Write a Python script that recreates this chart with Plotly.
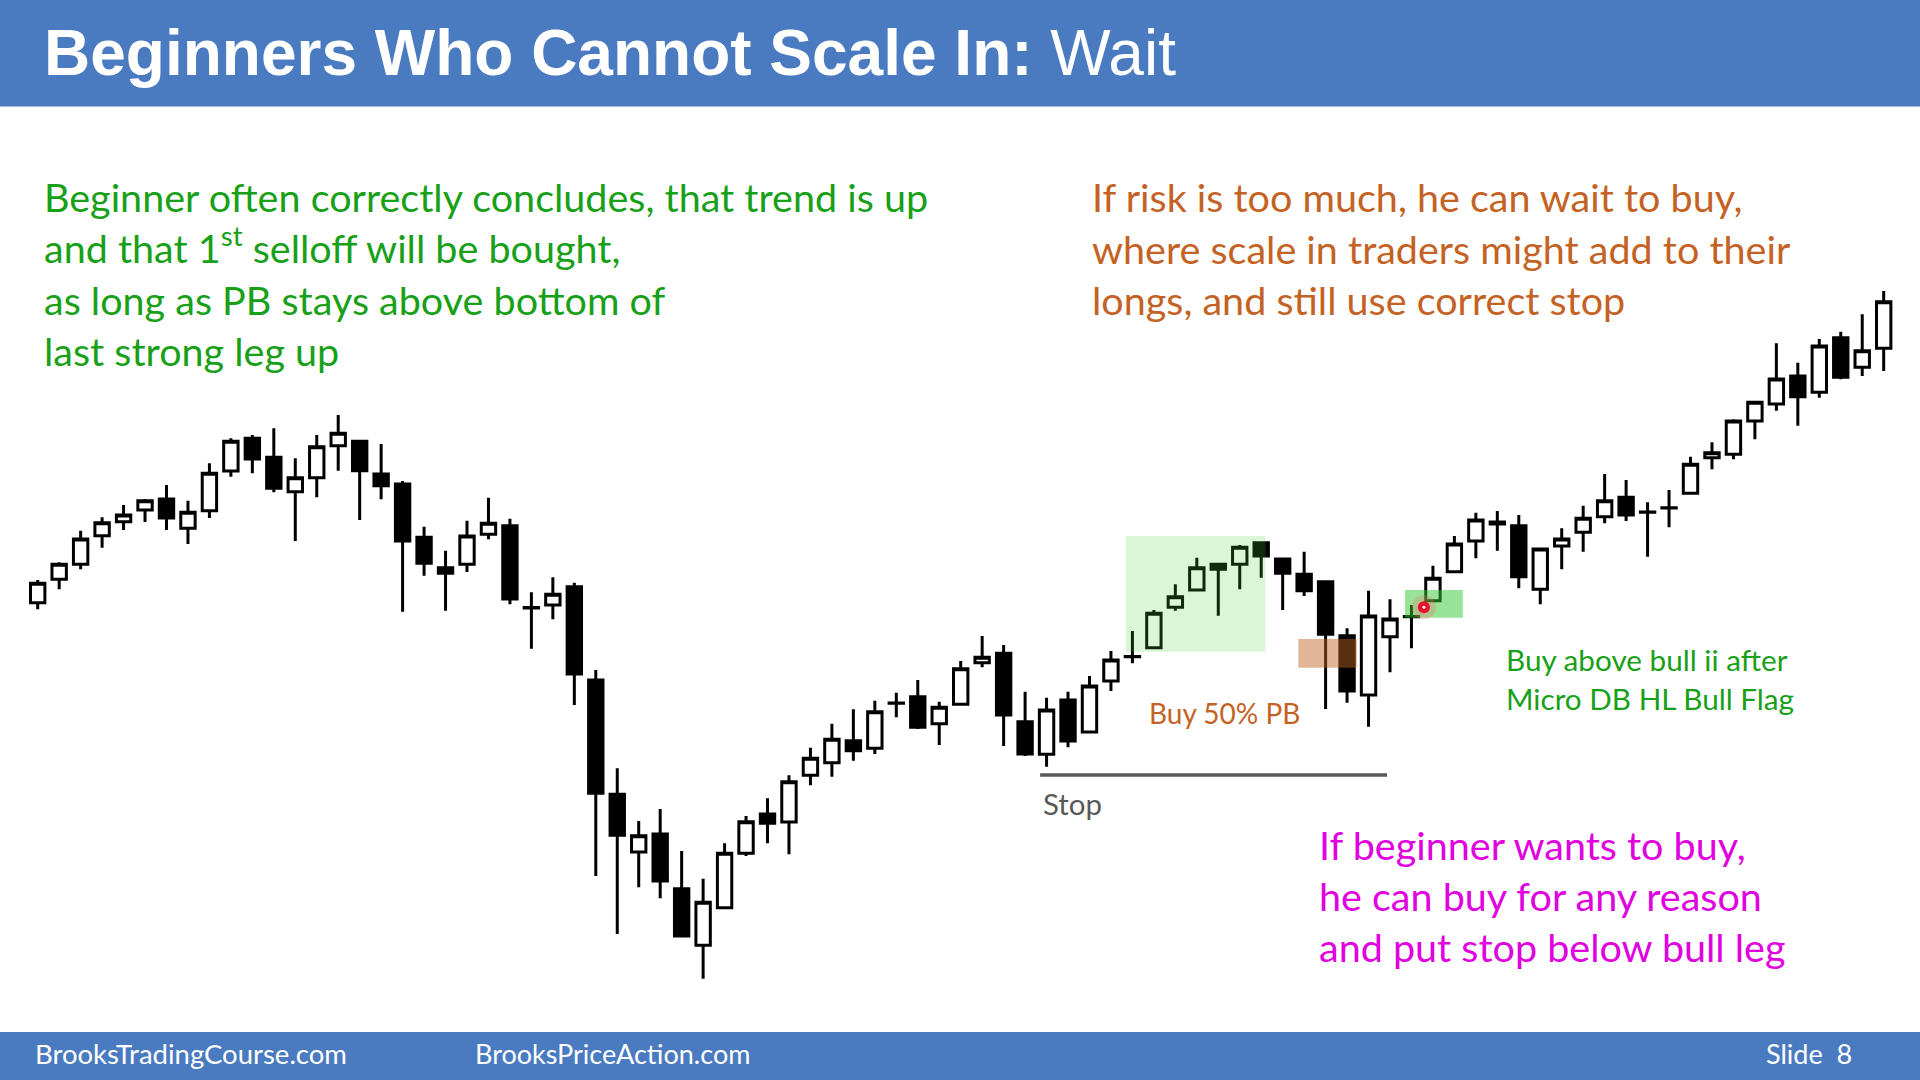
import plotly.graph_objects as go

# ---------------- data ----------------
bar_index = list(range(87))
opens = [477.3, 500.7, 515.7, 544.3, 558.3, 570, 581, 551.7, 569.3, 609,
         641.7, 622.7, 588.3, 602.3, 634.3, 638.7, 606, 596, 542.7, 512.3,
         515.7, 545.7, 554.3, 472.5, 475, 493.3, 400, 285.7, 228, 246,
         191.3, 134.7, 172.3, 226.7, 266, 258, 304.7, 317.3, 339.3, 331.7,
         377, 383.3, 356.3, 375.7, 417.3, 426.7, 358.3, 325.7, 380, 348,
         399, 423.5, 432.3, 472.7, 490, 515.7, 515.7, 537.3, 521, 505.7,
         498.3, 444.3, 385, 443.3, 463.5, 479.3, 508.3, 539, 558, 554.3,
         490.7, 534, 547.7, 563.3, 582.7, 568, 572, 586.7, 622.3, 625.7,
         659, 676, 704, 687.7, 742.3, 712.7, 731.7]
highs = [500, 517.7, 549.3, 562.7, 575, 581, 595, 579.3, 616.7, 641.7,
         645, 651.7, 621.7, 645, 665, 639, 636, 599, 553.3, 529.3,
         559.3, 582.3, 561.3, 487.7, 502.7, 497.3, 410, 311.7, 259, 271,
         229, 201.3, 236.7, 264, 281.7, 304.7, 332.3, 356.3, 370.7, 379.3,
         387.3, 400, 378.3, 419, 444, 435, 388.3, 382.3, 388.3, 404,
         429, 449, 470, 495.7, 522.3, 516.7, 535, 537.3, 521, 528.3,
         498.3, 451.7, 489.3, 480.7, 475, 514.3, 544, 567.3, 569, 565,
         532.3, 551.7, 574.3, 606, 600, 577.7, 590, 623.3, 637.7, 660.7,
         677.7, 736.7, 717.3, 741, 748.3, 765.7, 789]
lows = [470.7, 490.7, 510.7, 532.3, 550, 558, 550, 536, 562, 603.3,
        606.7, 587.7, 539, 582.7, 609.3, 560, 580.7, 468.3, 504.3, 469.3,
        508, 540.7, 475.7, 431.3, 460.7, 375, 204, 146, 192.7, 181.7,
        143.3, 101.3, 171, 224, 236.7, 225.7, 294.7, 303.3, 319.3, 326,
        362.7, 351, 335, 375.7, 412.7, 334, 324, 313.3, 332.7, 348,
        389, 416.7, 432.3, 469.3, 490, 464.3, 490.7, 502.3, 470, 484,
        371, 377.3, 353.3, 407.7, 431.7, 479.3, 508.3, 521.7, 529.3, 491.7,
        475.7, 510.7, 528.3, 556.7, 559, 523.3, 552.7, 585.7, 610.7, 620.7,
        640.7, 669.3, 654.3, 682.3, 700.7, 704, 709]
closes = [496.7, 515.7, 541, 557.3, 565, 579.3, 562, 567.7, 606.7, 638.7,
          621, 591.7, 602.3, 633.3, 646.7, 609.3, 594.3, 539, 516.7, 506.7,
          544, 556.7, 481, 472, 485.7, 406, 286.7, 244.7, 244.3, 199,
          144, 177.7, 226.7, 258.3, 256.7, 298.3, 321.7, 340.7, 329.3, 368.3,
          376.7, 352.7, 372.7, 411.3, 422.7, 365, 326, 370, 339, 394,
          420, 423.3, 466.7, 483.3, 512.3, 510.7, 532.7, 524, 506.7, 489.3,
          445.7, 389, 464, 461, 463.3, 501.7, 536, 560, 556, 503.3,
          531, 541, 561.7, 579.3, 565, 567.7, 572.2, 615.7, 627.3, 659,
          677.7, 701, 683.3, 734, 702.7, 729.3, 778.3]

# highlighted zones: (first bar, last bar, low price, high price)
zone_bull_leg = (50.7, 57.2, 428.3, 544.0)
zone_half_pb = (58.73, 61.45, 412.3, 441.0)
zone_bull_ii = (63.70, 66.39, 462.3, 490.0)
stop_level = (46.7, 62.86, 305.0)
entry_point = (64.58, 472.7)

W, H = 1920, 1080
fig = go.Figure()

fig.add_trace(go.Candlestick(
    x=bar_index, open=opens, high=highs, low=lows, close=closes,
    increasing=dict(line=dict(color="black", width=3), fillcolor="white"),
    decreasing=dict(line=dict(color="black", width=3), fillcolor="black"),
    whiskerwidth=0, hoverinfo="skip", showlegend=False,
))


def zone(z, color):
    x0, x1, y0, y1 = z
    fig.add_trace(go.Scatter(
        x=[x0, x1, x1, x0, x0], y=[y0, y0, y1, y1, y0], mode="lines",
        line=dict(width=0), fill="toself", fillcolor=color,
        hoverinfo="skip", showlegend=False))


zone(zone_bull_leg, "rgba(70,210,50,0.2)")
zone(zone_half_pb, "rgba(190,100,35,0.47)")
zone(zone_bull_ii, "rgba(50,200,50,0.5)")

fig.add_trace(go.Scatter(
    x=[stop_level[0], stop_level[1]], y=[stop_level[2], stop_level[2]],
    mode="lines", line=dict(color="#595959", width=3.5),
    hoverinfo="skip", showlegend=False))

for size, color in [(24, "rgba(255,90,90,0.25)"), (12, "#e8102e"), (3, "white")]:
    fig.add_trace(go.Scatter(
        x=[entry_point[0]], y=[entry_point[1]], mode="markers",
        marker=dict(size=size, color=color, line=dict(width=0)),
        hoverinfo="skip", showlegend=False))

# slide bars
fig.add_shape(type="rect", xref="paper", yref="paper", x0=0, x1=1,
              y0=1 - 106.5 / H, y1=1, fillcolor="#4A7BC0", line=dict(width=0), layer="below")
fig.add_shape(type="rect", xref="paper", yref="paper", x0=0, x1=1,
              y0=0, y1=1 - 1032 / H, fillcolor="#4A7BC0", line=dict(width=0), layer="below")

BODY = "Lato"


def text(t, x_px, base_px, size, color, family=BODY):
    fig.add_annotation(
        xref="paper", yref="paper", x=x_px / W, y=1 - (base_px - 0.36 * size) / H,
        xanchor="left", yanchor="middle", showarrow=False, text=t,
        font=dict(family=family, size=size, color=color))


text("<b>Beginners Who Cannot Scale In:</b> Wait", 42, 76.5, 64, "white", "Liberation Sans")

GREEN = "rgb(24,160,24)"
ORANGE = "rgb(196,98,36)"
MAGENTA = "#E000E0"
BIG = 39.5
left = ["Beginner often correctly concludes, that trend is up",
        "and that 1<sup>st</sup> selloff will be bought,",
        "as long as PB stays above bottom of",
        "last strong leg up"]
left_shift = [0, -3.5, 0, 0]
for i, t in enumerate(left):
    text(t, 42, 211 + i * 51.3 + left_shift[i], BIG, GREEN)
right = ["If risk is too much, he can wait to buy,",
         "where scale in traders might add to their",
         "longs, and still use correct stop"]
for i, t in enumerate(right):
    text(t, 1090, 211 + i * 51.3, BIG, ORANGE)
mag = ["If beginner wants to buy,", "he can buy for any reason", "and put stop below bull leg"]
for i, t in enumerate(mag):
    text(t, 1317, 858.5 + i * 51.0, BIG, MAGENTA)

text("Buy 50% PB", 1147, 723, 28, ORANGE)
text("Buy above bull ii after", 1504, 670, 29.7, GREEN)
text("Micro DB HL Bull Flag", 1504, 709, 29.7, GREEN)
text("Stop", 1041, 814, 29.5, "#595959")

text("BrooksTradingCourse.com", 33, 1063, 27.5, "white")
text("BrooksPriceAction.com", 473, 1063, 27, "white")
text("Slide\u00a0 8", 1764, 1063, 27, "white")

x_left = -37.7 / 21.465
x_right = (W - 37.7) / 21.465
fig.update_layout(
    width=W, height=H, margin=dict(l=0, r=0, t=0, b=0),
    paper_bgcolor="white", plot_bgcolor="white", showlegend=False,
    hovermode=False, boxgap=0.33, boxgroupgap=0,
    xaxis=dict(visible=False, range=[x_left, x_right], rangeslider=dict(visible=False),
               fixedrange=True),
    yaxis=dict(visible=False, range=[0, H], fixedrange=True),
)

fig.write_html("out.html", config={"displayModeBar": False},
               post_script="document.body.style.margin='0';")
